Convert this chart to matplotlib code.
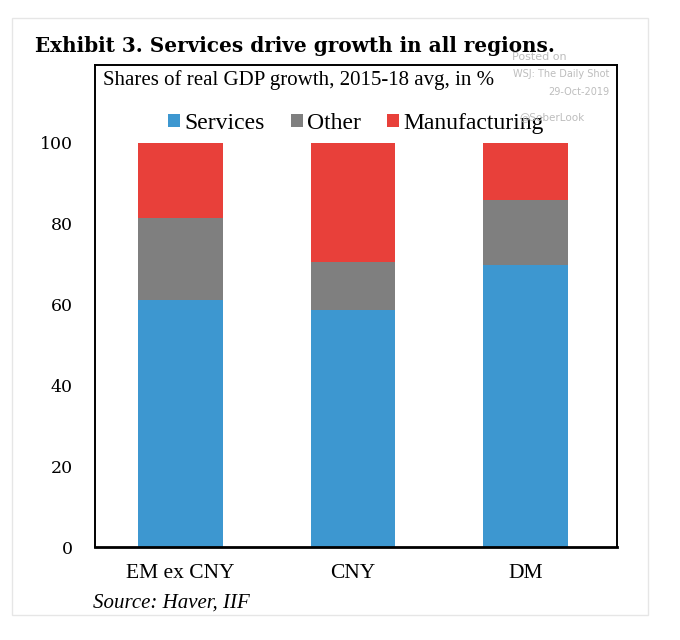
import matplotlib.pyplot as plt
from matplotlib.patches import Rectangle

regions = ['EM ex CNY', 'CNY', 'DM']
services = [61.1, 58.7, 69.8]
other = [20.3, 11.8, 16.1]
manufacturing = [18.6, 29.5, 14.1]
yticks = [0, 20, 40, 60, 80, 100]

c_serv = '#3d97d0'
c_oth = '#7f7f7f'
c_man = '#e8403a'

W, H = 680, 640
fig = plt.figure(figsize=(W / 100, H / 100), dpi=100)


def px(x, y):
    # pixel coords (top-left origin) -> figure fraction
    return x / W, 1 - y / H


# light outer frame
fig.patches.append(Rectangle(px(12, 615), 636 / W, 597 / H, transform=fig.transFigure,
                             fill=False, edgecolor='#e6e6e6', linewidth=1))

ax = fig.add_axes([95 / W, 1 - 547 / H, (617 - 95) / W, (547 - 65) / H])
x = range(len(regions))
bw = 0.49
ax.bar(x, services, bw, color=c_serv, label='Services')
bot2 = [s for s in services]
ax.bar(x, other, bw, bottom=bot2, color=c_oth, label='Other')
bot3 = [s + o for s, o in zip(services, other)]
ax.bar(x, manufacturing, bw, bottom=bot3, color=c_man, label='Manufacturing')

ax.set_xlim(-0.496, 2.53)
ax.set_ylim(0, 119.3)
ax.set_yticks(yticks)
ax.set_yticklabels([str(v) for v in yticks], family='DejaVu Serif', fontsize=12.5)
ax.set_xticks(list(x))
ax.set_xticklabels(regions, family='Liberation Serif', fontsize=15.5)
ax.tick_params(length=0)
ax.tick_params(axis='y', pad=16)
ax.tick_params(axis='x', pad=12)
for s in ax.spines.values():
    s.set_linewidth(1.4)
    s.set_color('black')
ax.spines['bottom'].set_linewidth(2)

leg = ax.legend(loc='upper center', bbox_to_anchor=(0.5, 0.945), ncol=3, frameon=False,
                prop={'family': 'Liberation Serif', 'size': 17},
                handlelength=0.5, handleheight=0.5, handletextpad=0.2, columnspacing=1.1)

fig.text(*px(35, 46), 'Exhibit 3. Services drive growth in all regions.',
         family='DejaVu Serif', fontweight='bold', fontsize=14.4, va='center')
fig.text(*px(103, 80), 'Shares of real GDP growth, 2015-18 avg, in %',
         family='Liberation Serif', fontsize=15, va='center')
fig.text(*px(93, 603), 'Source: Haver, IIF', family='Liberation Serif',
         style='italic', fontsize=15, va='center')

wm = '#bdbdbd'
fig.text(*px(567, 57), 'Posted on', color=wm, fontsize=8, va='center', ha='right')
fig.text(*px(609, 74), 'WSJ: The Daily Shot', color=wm, fontsize=7, va='center', ha='right')
fig.text(*px(609, 92), '29-Oct-2019', color=wm, fontsize=7, va='center', ha='right')
fig.text(*px(585, 117), '@SoberLook', color=wm, fontsize=7.5, va='center', ha='right')

fig.savefig('out.png', dpi=100)
